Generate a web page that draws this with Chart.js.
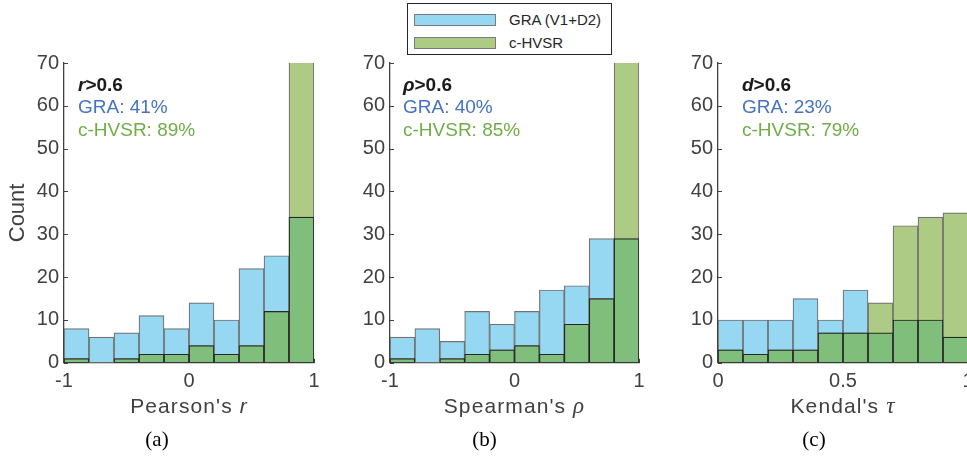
<!DOCTYPE html>
<html>
<head>
<meta charset="utf-8">
<script src="https://cdn.jsdelivr.net/npm/chart.js@4.4.1/dist/chart.umd.min.js"></script>
<style>
  html, body { margin: 0; padding: 0; background: #fff; overflow: hidden; }
  body { width: 967px; height: 459px; position: relative; font-family: "Liberation Sans", Arial, sans-serif; }
  .panel { position: absolute; top: 0; height: 459px; }
  #legend {
    position: absolute; left: 407px; top: 3px; width: 205px; height: 52px;
    border: 1px solid #262626; background: #fff; box-sizing: border-box;
  }
  .item { position: absolute; left: 6px; height: 13px; font-size: 15px; color: #262626; }
  .item span.patch { position: absolute; left: 0; top: 0; width: 82px; height: 12px; border: 1px solid #7a7a7a; box-sizing: border-box; }
  .item span.label { position: absolute; left: 95px; top: -3px; white-space: nowrap; }
</style>
</head>
<body>
<div class="panel" style="left:0;width:330px"><canvas id="pearson"></canvas></div>
<div class="panel" style="left:330px;width:330px"><canvas id="spearman"></canvas></div>
<div class="panel" style="left:660px;width:322px"><canvas id="kendall"></canvas></div>
<div id="legend">
  <div class="item" style="top:10px"><span class="patch" style="background:#96d7f2"></span><span class="label">GRA (V1+D2)</span></div>
  <div class="item" style="top:33px"><span class="patch" style="background:#adcb84"></span><span class="label">c-HVSR</span></div>
</div>
<script>
// bin centres (width 0.2 for r / rho, 0.1 for tau)
const binsSigned = [-0.9, -0.7, -0.5, -0.3, -0.1, 0.1, 0.3, 0.5, 0.7, 0.9];
const binsKendall = [0.05, 0.15, 0.25, 0.35, 0.45, 0.55, 0.65, 0.75, 0.85, 0.95];

// counts per bin
const pearsonGRA = [8, 6, 7, 11, 8, 14, 10, 22, 25, 34];
const pearsonHVSR = [1, 0, 1, 2, 2, 4, 2, 4, 12, 117];
const spearmanGRA = [6, 8, 5, 12, 9, 12, 17, 18, 29, 29];
const spearmanHVSR = [1, 0, 1, 2, 3, 4, 2, 9, 15, 108];
const kendallGRA = [10, 10, 10, 15, 10, 17, 7, 10, 10, 6];
const kendallHVSR = [3, 2, 3, 3, 7, 7, 14, 32, 34, 35];

// share above 0.6 (%)
const pearsonPct = [41, 89];
const spearmanPct = [40, 85];
const kendallPct = [23, 79];

const countMax = 70;
const countStep = 10;

const BLUE = '#96d7f2';
const GREEN = '#adcb84';
const BOTH = '#7fbe7b';
const AXIS = '#404040';
const SANS = '"Liberation Sans", Arial, sans-serif';
const SERIF = '"Liberation Serif", "Times New Roman", serif';

const inwardTicks = {
  id: 'inwardTicks',
  beforeDatasetsDraw(chart) {
    const { ctx, chartArea, scales: { x, y } } = chart;
    ctx.save();
    ctx.strokeStyle = AXIS;
    ctx.lineWidth = 1;
    ctx.beginPath();
    y.ticks.forEach(t => {
      const py = Math.round(y.getPixelForValue(t.value)) + 0.5;
      ctx.moveTo(chartArea.left, py);
      ctx.lineTo(chartArea.left + 4, py);
    });
    x.ticks.forEach(t => {
      const px = Math.round(x.getPixelForValue(t.value)) + 0.5;
      ctx.moveTo(px, chartArea.bottom);
      ctx.lineTo(px, chartArea.bottom - 4);
    });
    ctx.stroke();
    ctx.restore();
  }
};

// x label with the coefficient symbol set in italic
const xLabel = {
  id: 'xLabel',
  afterDraw(chart, args, opts) {
    const { ctx, chartArea } = chart;
    ctx.save();
    ctx.fillStyle = AXIS;
    ctx.textBaseline = 'alphabetic';
    ctx.textAlign = 'left';
    ctx.font = '21px ' + SANS;
    if ('letterSpacing' in ctx) ctx.letterSpacing = '1.1px';
    const w1 = ctx.measureText(opts.text).width;
    ctx.font = opts.symFont;
    const w2 = ctx.measureText(opts.sym).width;
    const x0 = (chartArea.left + chartArea.right) / 2 - (w1 + w2) / 2;
    const y0 = chartArea.bottom + 50;
    ctx.font = '21px ' + SANS;
    ctx.fillText(opts.text, x0, y0);
    ctx.font = opts.symFont;
    ctx.fillText(opts.sym, x0 + w1, y0);
    ctx.restore();
  }
};

const note = {
  id: 'note',
  afterDraw(chart, args, opts) {
    const { ctx, chartArea } = chart;
    const x0 = chartArea.left + opts.dx;
    const y0 = chartArea.top;
    ctx.save();
    ctx.textBaseline = 'middle';
    ctx.textAlign = 'left';
    ctx.fillStyle = '#1a1a1a';
    ctx.font = 'italic bold 19px ' + SANS;
    ctx.fillText(opts.symbol, x0, y0 + 23);
    const w = ctx.measureText(opts.symbol).width;
    ctx.font = 'bold 19px ' + SANS;
    ctx.fillText('>0.6', x0 + w, y0 + 23);
    ctx.font = '19px ' + SANS;
    ctx.fillStyle = '#4472c4';
    ctx.fillText('GRA: ' + opts.pct[0] + '%', x0, y0 + 45);
    ctx.fillStyle = '#70ad47';
    ctx.fillText('c-HVSR: ' + opts.pct[1] + '%', x0, y0 + 68);
    ctx.restore();
  }
};

function makePanel(id, cfg) {
  const pts = arr => arr.map((v, i) => ({ x: cfg.bins[i], y: v }));
  const overlap = cfg.gra.map((v, i) => Math.min(v, cfg.hvsr[i]));
  const bar = { barPercentage: 1, categoryPercentage: 1, grouped: false, borderSkipped: false, borderWidth: 1.2 };

  return new Chart(document.getElementById(id), {
    type: 'bar',
    data: {
      datasets: [
        { ...bar, order: 3, label: 'GRA (V1+D2)', data: pts(cfg.gra), backgroundColor: BLUE, borderColor: '#727272' },
        { ...bar, order: 2, label: 'c-HVSR', data: pts(cfg.hvsr), backgroundColor: GREEN, borderColor: '#727272' },
        { ...bar, order: 1, label: 'both', data: pts(overlap), backgroundColor: BOTH, borderColor: '#262626' }
      ]
    },
    options: {
      responsive: true,
      maintainAspectRatio: false,
      animation: false,
      layout: { padding: { top: 63, right: cfg.padRight, left: 0, bottom: 0 } },
      plugins: {
        legend: { display: false },
        tooltip: { enabled: false },
        title: {
          display: true, position: 'bottom', text: cfg.tag, color: '#000',
          font: { family: SERIF, size: 21, weight: 'normal' },
          padding: { top: 3, bottom: 6 }
        },
        note: { symbol: cfg.symbol, pct: cfg.pct, dx: cfg.noteDx },
        xLabel: { text: cfg.xTitle, sym: cfg.xSym, symFont: cfg.xSymFont }
      },
      scales: {
        x: {
          type: 'linear', min: cfg.xMin, max: cfg.xMax, offset: false,
          grid: { display: false, drawTicks: false },
          border: { color: AXIS, width: 1.3 },
          ticks: {
            stepSize: cfg.xStep, padding: 7, color: AXIS, font: { family: SANS, size: 20 },
            callback: v => String(v)
          },
          afterFit(s) { s.height = 62; }
        },
        y: {
          min: 0, max: countMax,
          grid: { display: false, drawTicks: false },
          border: { color: AXIS, width: 1.3 },
          ticks: { stepSize: countStep, padding: cfg.yPad, color: AXIS, font: { family: SANS, size: 20 } },
          title: { display: cfg.yTitle, text: 'Count', color: AXIS, padding: { top: 5, bottom: 0 }, font: { family: SANS, size: 22 } },
          afterFit(s) { s.width = cfg.yWidth; }
        }
      }
    },
    plugins: [inwardTicks, note, xLabel]
  });
}

makePanel('pearson', {
  bins: binsSigned, gra: pearsonGRA, hvsr: pearsonHVSR, pct: pearsonPct,
  xMin: -1, xMax: 1, xStep: 1, xTitle: "Pearson's ", xSym: 'r', xSymFont: 'italic 21px ' + SANS,
  tag: '(a)', symbol: 'r',
  yTitle: true, yWidth: 64, yPad: 5, padRight: 16, noteDx: 14
});
makePanel('spearman', {
  bins: binsSigned, gra: spearmanGRA, hvsr: spearmanHVSR, pct: spearmanPct,
  xMin: -1, xMax: 1, xStep: 1, xTitle: "Spearman's ", xSym: '\u03c1', xSymFont: 'italic 23px ' + SERIF,
  tag: '(b)', symbol: '\u03c1',
  yTitle: false, yWidth: 60, yPad: 5, padRight: 21, noteDx: 13
});
makePanel('kendall', {
  bins: binsKendall, gra: kendallGRA, hvsr: kendallHVSR, pct: kendallPct,
  xMin: 0, xMax: 1, xStep: 0.5, xTitle: "Kendal's ", xSym: '\u03c4', xSymFont: 'italic 23px ' + SERIF,
  tag: '(c)', symbol: 'd',
  yTitle: false, yWidth: 58, yPad: 5, padRight: 14, noteDx: 24
});
</script>
</body>
</html>
